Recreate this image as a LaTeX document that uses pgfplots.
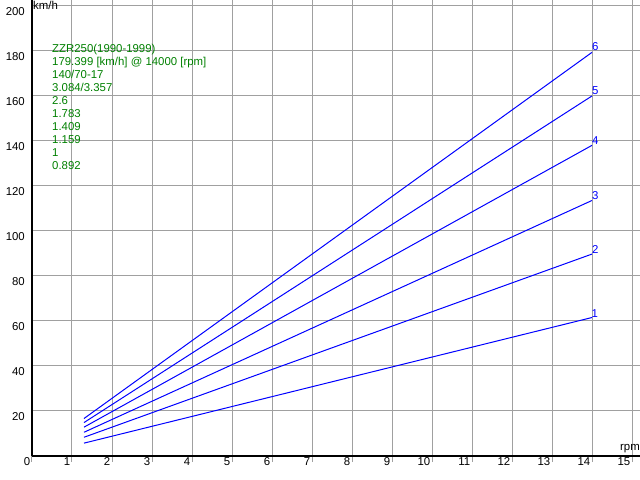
\documentclass[border=0pt]{standalone}
\usepackage{pgfplots}
\pgfplotsset{compat=1.18}
\usepackage{fontspec}
\setmainfont{Liberation Sans}
\definecolor{gridgray}{RGB}{160,160,160}
\definecolor{txtgreen}{RGB}{0,128,0}
\definecolor{lineblue}{RGB}{0,0,255}
\begin{document}
\begin{tikzpicture}
\useasboundingbox (-32bp,-24bp) rectangle (608bp,456bp);
\begin{axis}[
  scale only axis,
  width=608bp, height=456bp,
  xmin=0, xmax=15.2, ymin=0, ymax=202.667,
  axis lines=left,
  axis line style={-, black, line width=1.2bp},
  xtick={0,1,...,15},
  ytick={20,40,...,200},
  grid=major,
  grid style={gridgray, line width=1bp},
  tick align=outside,
  xtick style={draw=gridgray, line width=1bp},
  ytick style={draw=none},
  major tick length=6bp,
  font=\fontsize{11.4bp}{13bp}\selectfont,
  /pgf/number format/assume math mode=true,
  xticklabel style={anchor=north east, inner sep=0pt, xshift=-1.5bp, yshift=5bp},
  yticklabel style={anchor=north east, inner sep=0pt, xshift=-1bp, yshift=-1bp},
  clip=false,
]
\addplot[lineblue, line width=1bp] coordinates {(1.3,5.72) (14,61.55)} node[pos=1, anchor=south west, inner sep=0pt, xshift=-1bp] {1};
\addplot[lineblue, line width=1bp] coordinates {(1.3,8.33) (14,89.75)} node[pos=1, anchor=south west, inner sep=0pt, xshift=-0.5bp, yshift=0.5bp] {2};
\addplot[lineblue, line width=1bp] coordinates {(1.3,10.55) (14,113.57)} node[pos=1, anchor=south west, inner sep=0pt, xshift=-0.5bp, yshift=0.5bp] {3};
\addplot[lineblue, line width=1bp] coordinates {(1.3,12.82) (14,138.07)} node[pos=1, anchor=south west, inner sep=0pt, xshift=-0.5bp, yshift=0.5bp] {4};
\addplot[lineblue, line width=1bp] coordinates {(1.3,14.86) (14,160.02)} node[pos=1, anchor=south west, inner sep=0pt, xshift=-0.5bp, yshift=1bp] {5};
\addplot[lineblue, line width=1bp] coordinates {(1.3,16.66) (14,179.40)} node[pos=1, anchor=south west, inner sep=0pt, xshift=-0.5bp, yshift=1bp] {6};
\node[anchor=north west, inner sep=0pt, text=txtgreen, align=left,
      font=\fontsize{11.4bp}{13bp}\selectfont] at (axis cs:0.5,183.1)
  {ZZR250(1990-1999)\\179.399 [km/h] @ 14000 [rpm]\\140/70-17\\3.084/3.357\\2.6\\1.783\\1.409\\1.159\\1\\0.892};
\node[anchor=north west, inner sep=0pt, xshift=1bp, yshift=-1bp] at (rel axis cs:0,1) {km/h};
\node[anchor=south east, inner sep=0pt, yshift=3bp] at (rel axis cs:1,0) {rpm};
\end{axis}
\end{tikzpicture}
\end{document}
